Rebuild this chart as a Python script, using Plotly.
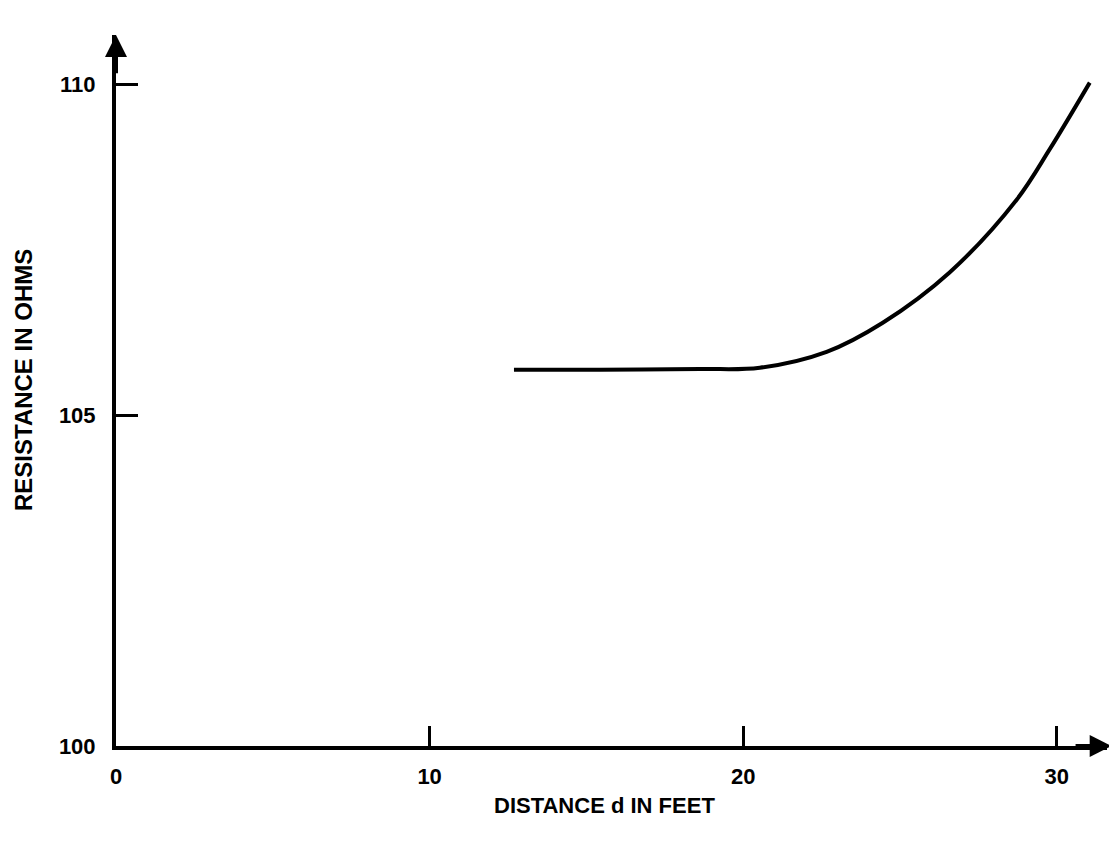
import plotly.graph_objects as go

# Data
distance_ft = [12.69, 15.43, 18.62, 20.53, 22.66, 24.45, 26.58, 28.72, 29.77, 31.05]
resistance_ohm = [105.69, 105.69, 105.70, 105.72, 105.96, 106.40, 107.16, 108.26, 109.02, 110.03]

x_ticks = [0, 10, 20, 30]
y_ticks = [100, 105, 110]

X_MAX = 31.6
ARROW_X = 31.75
Y_MIN, Y_MAX = 100, 110.75

# page geometry (browser body has 8px margin)
BODY = 8
L, T, B = 108, 27, 98
W, H = 1109, 836
PX_PER_X = 31.37
plot_w = X_MAX * PX_PER_X
R = W - L - plot_w
plot_h = H - T - B
left_px, top_px = BODY + L, BODY + T
bottom_px = top_px + plot_h


def paper_x(px):
    return (px - left_px) / plot_w


def paper_y(py):
    return (bottom_px - py) / plot_h


tick_font = dict(family="Liberation Sans, Arial, sans-serif", size=22, color="black")

fig = go.Figure()
fig.add_trace(go.Scatter(
    x=distance_ft, y=resistance_ohm, mode="lines",
    line=dict(color="black", width=4, shape="spline", smoothing=1.0),
    hoverinfo="skip", showlegend=False,
))

fig.update_layout(
    width=W, height=H,
    margin=dict(l=L, r=R, t=T, b=B, pad=0),
    paper_bgcolor="white", plot_bgcolor="white",
    font=tick_font,
    showlegend=False,
    xaxis=dict(
        range=[0, X_MAX], tickvals=x_ticks, ticktext=[f"<b>{v}</b>" for v in x_ticks],
        ticks="inside", ticklen=20, tickwidth=3, tickcolor="black",
        showline=True, linecolor="black", linewidth=4,
        showgrid=False, zeroline=False, ticklabelstandoff=8,
        tickfont=tick_font,
    ),
    yaxis=dict(
        range=[Y_MIN, Y_MAX], tickvals=y_ticks, ticktext=[f"<b>{v}</b>" for v in y_ticks],
        ticks="inside", ticklen=22, tickwidth=3, tickcolor="black",
        showline=True, linecolor="black", linewidth=4,
        showgrid=False, zeroline=False, ticklabelstandoff=12,
        tickfont=tick_font,
    ),
    annotations=[
        # axis arrowheads
        dict(x=0, y=Y_MAX, ax=0, ay=Y_MAX - 0.6, xref="x", yref="y", axref="x", ayref="y",
             showarrow=True, arrowhead=2, arrowsize=1.1, arrowwidth=4, arrowcolor="black", text=""),
        dict(x=ARROW_X, y=Y_MIN, ax=ARROW_X - 1.2, ay=Y_MIN, xref="x", yref="y", axref="x", ayref="y",
             showarrow=True, arrowhead=2, arrowsize=1.1, arrowwidth=4, arrowcolor="black", text=""),
        # axis titles
        dict(text="<b>DISTANCE d IN FEET</b>", x=paper_x(605), y=paper_y(805),
             xref="paper", yref="paper", showarrow=False,
             font=dict(family="Liberation Sans, Arial, sans-serif", size=22, color="black"),
             xanchor="center", yanchor="middle"),
        dict(text="<b>RESISTANCE IN OHMS</b>", x=paper_x(24), y=paper_y(380),
             xref="paper", yref="paper", showarrow=False,
             font=dict(family="Liberation Sans, Arial, sans-serif", size=24, color="black"),
             textangle=-90, xanchor="center", yanchor="middle"),
    ],
)

fig.write_html("out.html")
